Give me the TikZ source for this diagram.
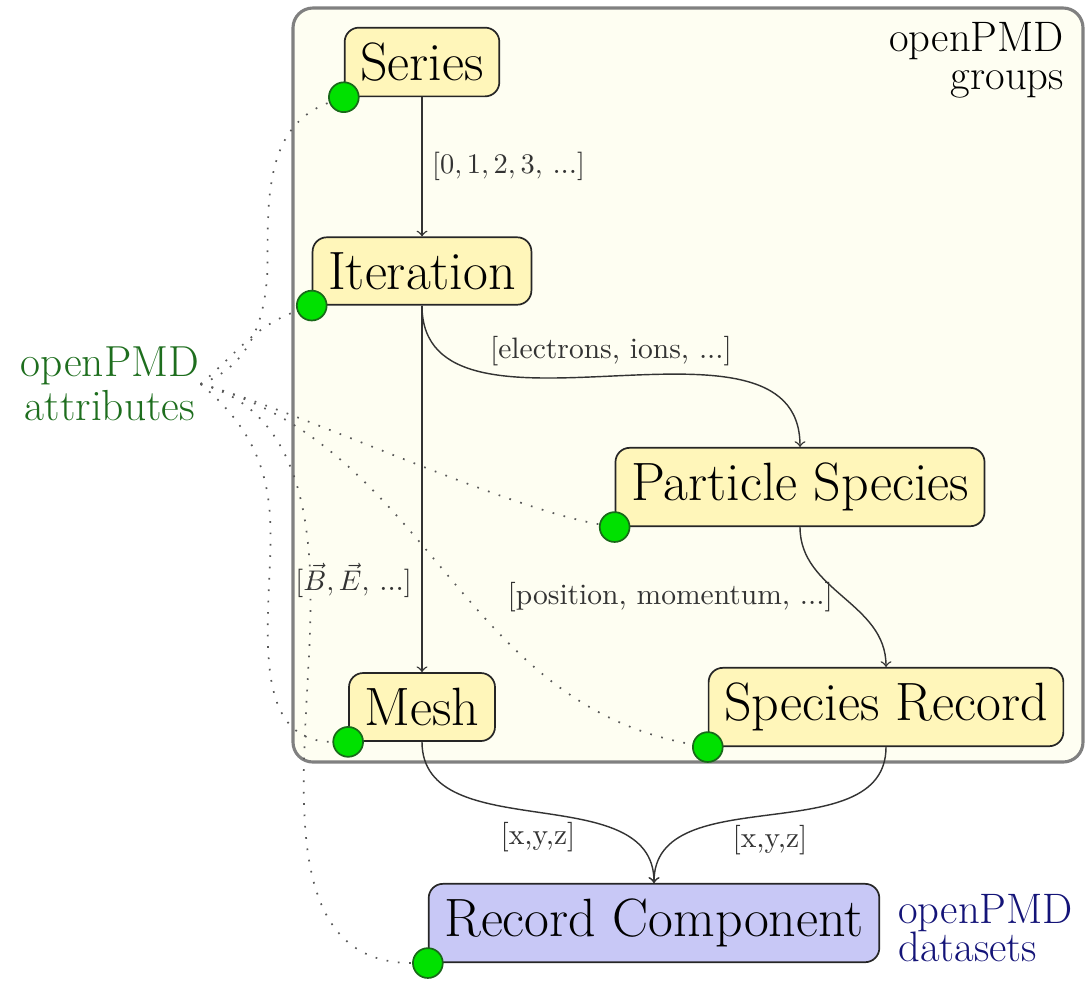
\documentclass[tikz,border=0pt]{standalone}
\usetikzlibrary{positioning}

\definecolor{groupfill}{RGB}{255,246,186}
\definecolor{datafill}{RGB}{200,200,246}
\definecolor{framefill}{RGB}{254,254,242}
\definecolor{framedraw}{RGB}{128,128,128}
\definecolor{dotfill}{RGB}{0,225,0}
\definecolor{dotdraw}{RGB}{25,105,25}
\definecolor{attrtext}{RGB}{30,110,30}
\definecolor{datatext}{RGB}{20,20,120}

\tikzset{
  group/.style={draw=black!85, fill=groupfill, rounded corners=5pt, line width=0.6pt,
    font=\fontsize{19}{23}\selectfont, inner xsep=5.5pt, inner ysep=5.3pt},
  dataset/.style={group, fill=datafill},
  attrdot/.style={circle, draw=dotdraw, fill=dotfill, line width=0.6pt,
    minimum size=10.5pt, inner sep=0pt},
  link/.style={->, draw=black!80, line width=0.5pt},
  linklabel/.style={font=\fontsize{10.4}{12.5}\selectfont, text=black!80},
  attrlink/.style={draw=black!65, line width=0.6pt, dash pattern=on 0.6pt off 3.4pt},
}

\begin{document}
\begin{tikzpicture}[x=0.352pt, y=0.352pt]
\useasboundingbox (0,0) rectangle (1088,-980);

% Frame around the openPMD groups
\draw[framedraw, fill=framefill, line width=1.1pt, rounded corners=7pt]
  (293,-8) rectangle (1083,-762);
\node[anchor=north east, align=right, font=\fontsize{15}{13.5}\selectfont]
  (grouptext) at (1074,-12) {openPMD\\groups};

% Group nodes
\node[group] (series) at (422,-62) {Series};
\node[group] (iter) at (422,-271) {Iteration};
\node[group] (part) at (800,-487) {Particle Species};
\node[group] (mesh) at (422,-707) {Mesh};
\node[group] (sprec) at (886,-707) {Species Record};

% Dataset node
\node[dataset] (rc) at (654,-923) {Record Component};
\node[right=1mm of rc, yshift=-1.8pt, align=left, text=datatext,
  font=\fontsize{15}{13.7}\selectfont] (datatext) {openPMD\\datasets};

% Attribute markers
\foreach \g in {series,iter,part,mesh,sprec,rc}
  \node[attrdot] (dot\g) at (\g.south west) {};

% Hierarchy links
\draw[link] (series) -- node[linklabel,right] {$[0, 1, 2, 3,$ ...$]$} (iter);
\draw[link] (iter) -- node[linklabel,left,pos=0.75] {$[\vec{B}, \vec{E},$ ...$]$} (mesh);
\draw[link] (iter.south) to[out=-90,in=90]
  node[linklabel,above] {[electrons, ions, ...]} (part.north);
\draw[link] (part.south) to[out=-90,in=90]
  node[linklabel,left] {[position, momentum, ...]} (sprec.north);
\draw[link] (mesh.south) to[out=-90,in=90] node[linklabel,below] {[x,y,z]} (rc.north);
\draw[link] (sprec.south) to[out=-90,in=90] node[linklabel,below] {[x,y,z]} (rc.north);

% Attributes label and its dotted links
\node[align=center, text=attrtext, font=\fontsize{15.3}{15.5}\selectfont]
  (attr) at (110,-384) {openPMD\\attributes};
\coordinate (hub) at ([xshift=-3pt]attr.east);

\draw[attrlink] (hub) to[out=20,in=-90] ++(67,125) to[out=90,in=200] (dotseries);
\draw[attrlink] (hub) to[out=40,in=200] (dotiter);
\draw[attrlink] (hub) to[out=-15,in=170,looseness=0.6] (dotpart);
\draw[attrlink] (hub) to[out=-15,in=170] (dotsprec);
\draw[attrlink] (hub) to[out=-40,in=90] ++(70,-150) to[out=-90,in=180] (dotmesh);
\draw[attrlink] (hub) to[out=-15,in=90] ++(110,-215) to[out=-90,in=180] (dotrc);
\end{tikzpicture}
\end{document}
